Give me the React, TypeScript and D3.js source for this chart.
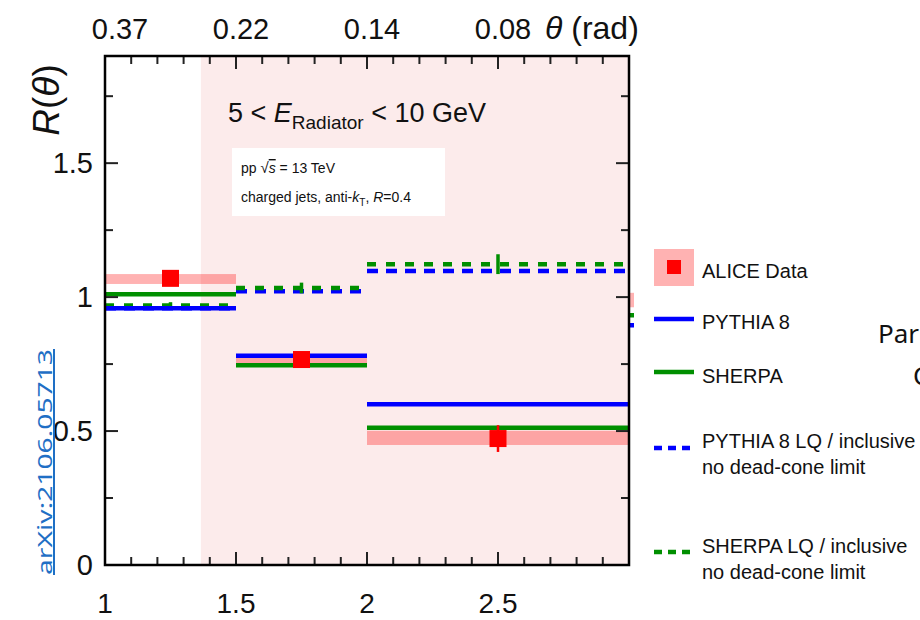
import React from 'react';
import * as d3 from 'd3';

// bins in ln(1/theta)
const binLow = [1, 1.5, 2, 3];
const binHigh = [1.5, 2, 3, 3.5];
const binCenter = [1.25, 1.75, 2.5, 3.25];

// ALICE data
const aliceValue = [1.07, 0.767, 0.472, 0.99];
const aliceStat = [0.008, 0.012, 0.05, 0.01];
const aliceSysLow = [1.049, 0.752, 0.448, 0.962];
const aliceSysHigh = [1.086, 0.785, 0.501, 1.016];

// MC
const pythia = [0.958, 0.781, 0.6, 0.895];
const sherpa = [1.011, 0.746, 0.512, 0.932];
const pythiaLQ = [0.958, 1.022, 1.097];
const sherpaLQ = [0.969, 1.034, 1.123];
const sherpaLQErr = [0.012, 0.02, 0.037];

const bottomTickValues = [1, 1.5, 2, 2.5];
const bottomTickLabels = ['1', '1.5', '2', '2.5'];
const topTickLabels = ['0.37', '0.22', '0.14', '0.08'];
const leftTickValues = [0, 0.5, 1, 1.5];
const leftTickLabels = ['0', '0.5', '1', '1.5'];
const shadeStart = 1.366;

const RED = '#ff0000';
const BLUE = '#0000ff';
const GREEN = '#008f00';
const PINK = '#fcebeb';
const FONT = '"Liberation Sans", Arial, sans-serif';

export default function App() {
  const x = d3.scaleLinear().domain([1, 3]).range([105, 629]);
  const y = d3.scaleLinear().domain([0, 1.9]).range([565, 56]);
  const [x0, x1] = x.range();
  const [y0, y1] = y.range();

  const xMinor = d3.range(1, 3.0001, 0.1);
  const yMinor = d3.range(0, 1.9, 0.25);
  const isMajor = (v: number) => Math.abs(v * 2 - Math.round(v * 2)) < 1e-6;

  const hline = (lo: number, hi: number, v: number, color: string, dash?: string, key?: string) => (
    <line key={key} x1={x(lo)} x2={x(hi)} y1={y(v)} y2={y(v)} stroke={color} strokeWidth={4.5} strokeDasharray={dash} />
  );

  return (
    <svg width={920} height={620} style={{ position: 'absolute', left: 0, top: 0, background: '#fff' }} fontFamily={FONT}>
      <defs>
        <clipPath id="plotClip">
          <rect x={x0} y={y1} width={x1 - x0 + 5} height={y0 - y1} />
        </clipPath>
      </defs>

      {/* shaded region */}
      <rect x={x(shadeStart)} y={y1} width={x1 - x(shadeStart)} height={y0 - y1} fill={PINK} />

      {/* labels inside */}
      <text x={228} y={122} fontSize={27} fill="#111">
        5 &lt; <tspan fontStyle="italic">E</tspan>
        <tspan fontSize={19} dy={7}>Radiator</tspan>
        <tspan dy={-7}> &lt; 10 GeV</tspan>
      </text>
      <rect x={232} y={148} width={213} height={68} fill="#fff" />
      <text x={241} y={173} fontSize={14} fill="#111">
        pp <tspan fontSize={15}>√</tspan><tspan fontStyle="italic" textDecoration="overline">s</tspan> = 13 TeV
      </text>
      <text x={241} y={202} fontSize={14} fill="#111">
        charged jets, anti-<tspan fontStyle="italic">k</tspan><tspan fontSize={10} dy={4}>T</tspan><tspan dy={-4}>, </tspan>
        <tspan fontStyle="italic">R</tspan>=0.4
      </text>

      <g clipPath="url(#plotClip)">
        {/* systematic bands */}
        {binLow.map((lo, i) => (
          <rect key={'sys' + i} x={x(lo)} width={x(binHigh[i]) - x(lo)} y={y(aliceSysHigh[i])}
            height={y(aliceSysLow[i]) - y(aliceSysHigh[i])} fill={RED} fillOpacity={0.3} />
        ))}
        {/* LQ dashed */}
        {pythiaLQ.map((v, i) => hline(binLow[i], binHigh[i], v, BLUE, '11 8', 'plq' + i))}
        {sherpaLQ.map((v, i) => hline(binLow[i], binHigh[i], v, GREEN, '9 10', 'slq' + i))}
        {sherpaLQ.map((v, i) => (
          <line key={'slqe' + i} x1={x(binCenter[i])} x2={x(binCenter[i])} y1={y(v - sherpaLQErr[i])} y2={y(v + sherpaLQErr[i])}
            stroke={GREEN} strokeWidth={3.5} />
        ))}
        {/* solid MC */}
        {pythia.map((v, i) => hline(binLow[i], binHigh[i], v, BLUE, undefined, 'py' + i))}
        {sherpa.map((v, i) => hline(binLow[i], binHigh[i], v, GREEN, undefined, 'sh' + i))}
        {/* data points */}
        {aliceValue.map((v, i) => (
          <g key={'pt' + i}>
            <line x1={x(binCenter[i])} x2={x(binCenter[i])} y1={y(v - aliceStat[i])} y2={y(v + aliceStat[i])} stroke={RED} strokeWidth={2.5} />
            <rect x={x(binCenter[i]) - 8.5} y={y(v) - 8.5} width={17} height={17} fill={RED} />
          </g>
        ))}
      </g>

      {/* ticks */}
      {xMinor.map((v, i) => {
        const len = isMajor(v) ? 13 : 8;
        return (
          <g key={'xt' + i} stroke="#222" strokeWidth={2}>
            <line x1={x(v)} x2={x(v)} y1={y0} y2={y0 - len} />
            <line x1={x(v)} x2={x(v)} y1={y1} y2={y1 + len} />
          </g>
        );
      })}
      {yMinor.map((v, i) => {
        const len = isMajor(v) ? 13 : 8;
        return (
          <g key={'yt' + i} stroke="#222" strokeWidth={2}>
            <line x1={x0} x2={x0 + len} y1={y(v)} y2={y(v)} />
            <line x1={x1} x2={x1 - len} y1={y(v)} y2={y(v)} />
          </g>
        );
      })}

      {/* frame */}
      <rect x={x0} y={y1} width={x1 - x0} height={y0 - y1} fill="none" stroke="#000" strokeWidth={2.5} />

      {/* axis labels */}
      {bottomTickValues.map((v, i) => (
        <text key={'bl' + i} x={x(v)} y={613} fontSize={28} textAnchor="middle" fill="#111">{bottomTickLabels[i]}</text>
      ))}
      {bottomTickValues.map((v, i) => (
        <text key={'tl' + i} x={x(v) + (i === 0 ? 15 : 5)} y={39} fontSize={29} textAnchor="middle" fill="#111">{topTickLabels[i]}</text>
      ))}
      <text x={545} y={39} fontSize={32} fill="#111"><tspan fontStyle="italic">θ</tspan> (rad)</text>
      {leftTickValues.map((v, i) => (
        <text key={'ll' + i} x={93} y={y(v) + 10} fontSize={29} textAnchor="end" fill="#111">{leftTickLabels[i]}</text>
      ))}
      <text transform="translate(59,100) rotate(-90)" fontSize={37} textAnchor="middle" fill="#111">
        <tspan fontStyle="italic">R</tspan>(<tspan fontStyle="italic">θ</tspan>)
      </text>
      <text transform="translate(52,462) rotate(-90)" fontSize={20} textAnchor="middle" fill="#1f6fc5"
        fontFamily='"Noto Sans", sans-serif' textDecoration="underline" textLength={226} lengthAdjust="spacingAndGlyphs">
        arXiv:2106.05713
      </text>

      {/* legend */}
      <g fontSize={20} fill="#111">
        <rect x={654} y={249} width={40} height={37} fill={RED} fillOpacity={0.3} />
        <rect x={667} y={260} width={14} height={14} fill={RED} />
        <text x={702} y={278}>ALICE Data</text>
        <line x1={654} x2={694} y1={319} y2={319} stroke={BLUE} strokeWidth={4.5} />
        <text x={702} y={329}>PYTHIA 8</text>
        <line x1={654} x2={694} y1={372} y2={372} stroke={GREEN} strokeWidth={4.5} />
        <text x={702} y={383}>SHERPA</text>
        <line x1={654} x2={690} y1={448} y2={448} stroke={BLUE} strokeWidth={4.5} strokeDasharray="8 6" />
        <text x={702} y={448}>PYTHIA 8 LQ / inclusive</text>
        <text x={702} y={474}>no dead-cone limit</text>
        <line x1={654} x2={690} y1={552} y2={552} stroke={GREEN} strokeWidth={4.5} strokeDasharray="8 6" />
        <text x={702} y={553}>SHERPA LQ / inclusive</text>
        <text x={702} y={579}>no dead-cone limit</text>
      </g>

      {/* cropped slide text */}
      <text x={878} y={343} fontSize={26} fontFamily='"Noto Sans", sans-serif' fill="#111">Par</text>
      <text x={913} y={385} fontSize={26} fontFamily='"Noto Sans", sans-serif' fill="#111">C</text>
    </svg>
  );
}
